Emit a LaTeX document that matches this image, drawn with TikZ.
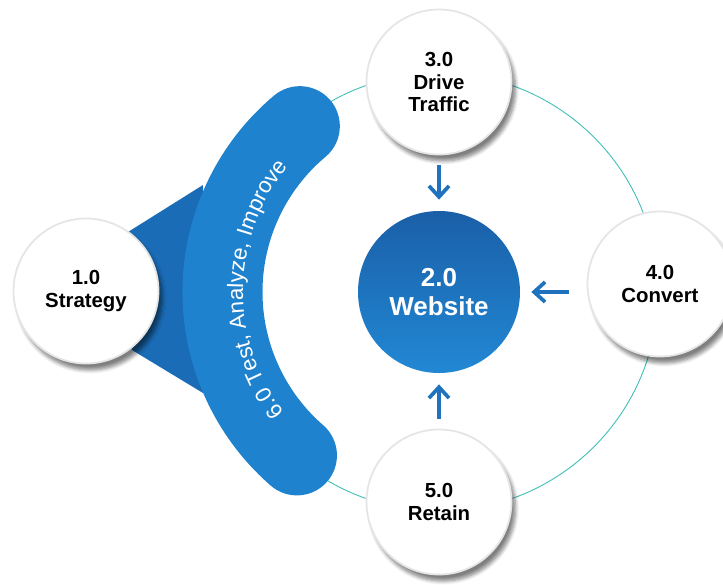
\documentclass[tikz,border=0pt]{standalone}
\usepackage{fontspec}
\setmainfont{Liberation Sans}
\usepackage{xcolor}
\definecolor{bandblue}{HTML}{1F82CE}
\definecolor{funnelblue}{HTML}{1A6CB6}
\definecolor{webtop}{HTML}{1A5FA8}
\definecolor{webbottom}{HTML}{2288D4}
\definecolor{ringteal}{HTML}{3DBDB7}
\definecolor{arrowblue}{HTML}{1E72BE}
\usepackage{tikz}
\usetikzlibrary{positioning, arrows.meta, shadows.blur, decorations.text}

\tikzset{
  stage/.style={circle, minimum size=2.9cm, inner sep=0pt, fill=white, draw=black!10, line width=1pt,
    align=center, font=\fontsize{11.6}{13}\selectfont\bfseries,
    blur shadow={shadow xshift=0.08cm, shadow yshift=-0.13cm, shadow opacity=50, shadow blur steps=6}},
  hub/.style={circle, minimum size=3.24cm, inner sep=0pt, top color=webtop, bottom color=webbottom,
    text=white, align=center, font=\fontsize{14.8}{17}\selectfont\bfseries},
  flow/.style={arrowblue, line width=2.3pt, -{Straight Barb[length=0.22cm, width=0.4cm, line width=2.1pt]},
    shorten <=0.2cm, shorten >=0.22cm}
}

\begin{document}
\begin{tikzpicture}
\useasboundingbox (-8.78,-5.84) rectangle (5.68,5.84);
% ring behind the stages
\draw[ringteal, line width=0.5pt] (0,0) circle (4.38);
% funnel from strategy into the band
\fill[funnelblue] (-6.22,1.2) -- (-4.72,2.14) -- (-4.72,-2.02) -- (-6.14,-1.16) -- cycle;
% band
\draw[bandblue, line width=1.6cm, line cap=round] (130:4.33) arc[start angle=130, end angle=229, radius=4.33];
\path[decorate, decoration={text along path, text align=center, text color=white,
    text={|\fontsize{12.7}{15}\selectfont|6.0 Test, Analyze, Improve}}]
  (223:3.92) arc[start angle=223, end angle=135, radius=3.92];

\node[hub] (web) at (0,0) {2.0\\Website};
\node[stage] (strat) at (-7.06,0.02) {1.0\\Strategy};
\node[stage] (drive) at (0,4.2) {3.0\\Drive\\Traffic};
\node[stage] (convert) at (4.42,0.16) {4.0\\Convert};
\node[stage] (retain) at (0,-4.2) {5.0\\Retain};

\foreach \from in {drive, retain}
  \draw[flow] (\from) -- (web);
\draw[flow, shorten <=0.35cm] (convert.west |- web.east) -- (web.east);
\end{tikzpicture}
\end{document}
